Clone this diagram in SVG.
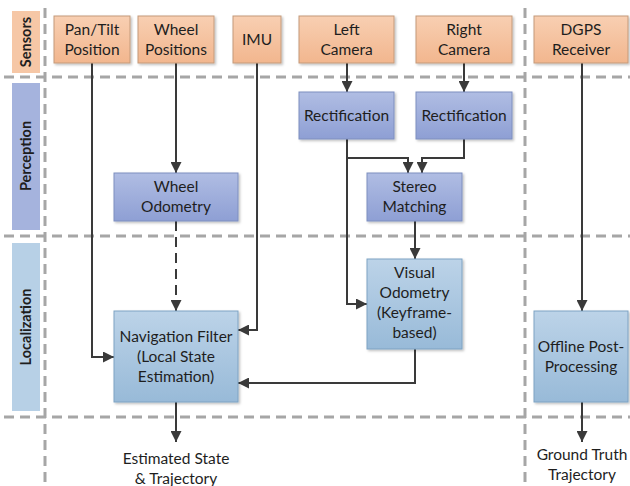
<svg xmlns="http://www.w3.org/2000/svg" width="630" height="486" viewBox="0 0 630 486">
<defs>
<linearGradient id="gS" x1="0" y1="0" x2="0" y2="1"><stop offset="0" stop-color="#f8cfb2"/><stop offset="1" stop-color="#f2b68e"/></linearGradient>
<linearGradient id="gP" x1="0" y1="0" x2="0" y2="1"><stop offset="0" stop-color="#b0bde3"/><stop offset="1" stop-color="#8e9fd4"/></linearGradient>
<linearGradient id="gL" x1="0" y1="0" x2="0" y2="1"><stop offset="0" stop-color="#bcd3e8"/><stop offset="1" stop-color="#98bad8"/></linearGradient>
<marker id="ah" viewBox="0 0 10 10" refX="10" refY="5" markerWidth="11" markerHeight="11" markerUnits="userSpaceOnUse" orient="auto"><path d="M0,0 L10,5 L0,10 Z" fill="#3a3a3a"/></marker>
<filter id="sh" x="-10%" y="-10%" width="130%" height="130%"><feDropShadow dx="1.5" dy="1.5" stdDeviation="1" flood-color="#000" flood-opacity="0.25"/></filter>
</defs>
<style>
text{font-family:Lato,"Liberation Sans",sans-serif;font-size:15.5px;fill:#1e1e1e;text-anchor:middle}
.lab{font-weight:bold;font-size:14.5px}
.s{fill:url(#gS);stroke:#c49a7a;stroke-width:1;filter:url(#sh)}
.p{fill:url(#gP);stroke:#7e8fbf;stroke-width:1;filter:url(#sh)}
.l{fill:url(#gL);stroke:#7ea3c3;stroke-width:1;filter:url(#sh)}
.sep{stroke:#a6a6a6;stroke-width:3;stroke-dasharray:10,6;fill:none}
.c{stroke:#3a3a3a;stroke-width:2;fill:none;marker-end:url(#ah)}
</style>
<rect width="630" height="486" fill="#fff"/>
<g id="separators">
<line class="sep" x1="4" y1="77" x2="630" y2="77"/>
<line class="sep" x1="4" y1="236" x2="630" y2="236"/>
<line class="sep" x1="4" y1="417" x2="630" y2="417"/>
<line class="sep" x1="45" y1="8" x2="45" y2="486"/>
<line class="sep" x1="525" y1="8" x2="525" y2="486" stroke-width="2.5"/>
</g>
<g id="lane-sensors"><rect x="12" y="11" width="28" height="62" fill="#f6c7a6"/><text class="lab" transform="translate(31,42) rotate(-90)">Sensors</text></g>
<g id="lane-perception"><rect x="12" y="83" width="28" height="147" fill="#a5b3dd"/><text class="lab" transform="translate(31,156) rotate(-90)">Perception</text></g>
<g id="lane-localization"><rect x="12" y="243" width="28" height="168" fill="#b7d0e6"/><text class="lab" transform="translate(31,327) rotate(-90)">Localization</text></g>
<g id="connectors">
<polyline class="c" points="92,63 92,357 114,357"/>
<line class="c" x1="176" y1="63" x2="176" y2="173"/>
<line class="c" x1="176" y1="221" x2="176" y2="311" stroke-dasharray="10,6"/>
<polyline class="c" points="257,63 257,330 238,330"/>
<line class="c" x1="347" y1="63" x2="347" y2="92"/>
<line class="c" x1="464" y1="63" x2="464" y2="92"/>
<polyline class="c" points="347,139 347,304 367,304"/>
<polyline class="c" points="347,158 408,158 408,173"/>
<polyline class="c" points="464,139 464,158 422,158 422,173"/>
<line class="c" x1="415" y1="221" x2="415" y2="259"/>
<polyline class="c" points="415,349 415,383 238,383"/>
<line class="c" x1="582" y1="63" x2="582" y2="311"/>
<line class="c" x1="176" y1="402" x2="176" y2="442"/>
<line class="c" x1="582" y1="402" x2="582" y2="442"/>
</g>
<g id="pantilt"><rect class="s" x="54" y="16" width="76" height="47"/><text x="92" y="35">Pan/Tilt</text><text x="92" y="55">Position</text></g>
<g id="wheelpos"><rect class="s" x="138" y="16" width="76" height="47"/><text x="176" y="35">Wheel</text><text x="176" y="55">Positions</text></g>
<g id="imu"><rect class="s" x="233" y="16" width="48" height="47"/><text x="257" y="45">IMU</text></g>
<g id="leftcam"><rect class="s" x="299" y="16" width="95" height="47"/><text x="346.5" y="35">Left</text><text x="346.5" y="55">Camera</text></g>
<g id="rightcam"><rect class="s" x="416" y="16" width="96" height="47"/><text x="464" y="35">Right</text><text x="464" y="55">Camera</text></g>
<g id="dgps"><rect class="s" x="534" y="16" width="94" height="47"/><text x="581" y="35">DGPS</text><text x="581" y="55">Receiver</text></g>
<g id="rectl"><rect class="p" x="299" y="92" width="95" height="47"/><text x="346.5" y="121">Rectification</text></g>
<g id="rectr"><rect class="p" x="416" y="92" width="96" height="47"/><text x="464" y="121">Rectification</text></g>
<g id="wheelodo"><rect class="p" x="114" y="173" width="124" height="48"/><text x="176" y="192">Wheel</text><text x="176" y="212">Odometry</text></g>
<g id="stereo"><rect class="p" x="367" y="173" width="95" height="48"/><text x="414.5" y="192">Stereo</text><text x="414.5" y="212">Matching</text></g>
<g id="vo"><rect class="l" x="367" y="259" width="95" height="90"/><text x="414.5" y="278">Visual</text><text x="414.5" y="298">Odometry</text><text x="414.5" y="318">(Keyframe-</text><text x="414.5" y="338">based)</text></g>
<g id="navfilter"><rect class="l" x="114" y="311" width="124" height="91"/><text x="176" y="342">Navigation Filter</text><text x="176" y="362">(Local State</text><text x="176" y="382">Estimation)</text></g>
<g id="offline"><rect class="l" x="534" y="311" width="94" height="91"/><text x="581" y="352">Offline Post-</text><text x="581" y="372">Processing</text></g>
<g id="out-est"><text x="176" y="464">Estimated State</text><text x="176" y="484">&amp; Trajectory</text></g>
<g id="out-gt"><text x="582" y="460">Ground Truth</text><text x="582" y="480">Trajectory</text></g>
</svg>
